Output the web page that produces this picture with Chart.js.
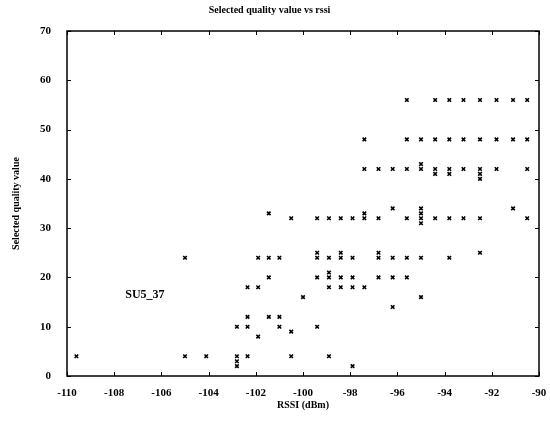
<!DOCTYPE html>
<html>
<head>
<meta charset="utf-8">
<script src="https://cdn.jsdelivr.net/npm/chart.js@4/dist/chart.umd.min.js"></script>
<style>
html, body { margin: 0; padding: 0; background: #fff; }
</style>
</head>
<body>
<canvas id="chart" width="550" height="427"></canvas>
<script>
// RSSI columns (dBm) and the quality values found at each of them
const rssi = [-109.6, -105.0, -104.1, -102.8, -102.35, -101.9, -101.45, -101.0, -100.5, -100.0,
	-99.4, -98.9, -98.4, -97.9, -97.4, -96.8, -96.2, -95.6, -95.0, -94.4,
	-93.8, -93.2, -92.5, -91.8, -91.1, -90.5];

const quality = [
	[4],
	[24, 4],
	[4],
	[10, 4, 3, 2],
	[18, 12, 10, 4],
	[24, 18, 8],
	[33, 24, 20, 12],
	[24, 12, 10],
	[32, 9, 4],
	[16],
	[32, 25, 24, 20, 10],
	[32, 24, 21, 20, 18, 4],
	[32, 25, 24, 20, 18],
	[32, 24, 20, 18, 2],
	[48, 42, 33, 32, 18],
	[42, 32, 25, 24, 20],
	[42, 34, 24, 20, 14],
	[56, 48, 42, 32, 24, 20],
	[48, 43, 42, 34, 33, 32, 31, 24, 16],
	[56, 48, 42, 41, 32],
	[56, 48, 42, 41, 32, 24],
	[56, 48, 42, 32],
	[56, 48, 42, 41, 40, 32, 25],
	[56, 48, 42],
	[56, 48, 34],
	[56, 48, 42, 32]
];

const xTicks = [-110, -108, -106, -104, -102, -100, -98, -96, -94, -92, -90];
const yTicks = [0, 10, 20, 30, 40, 50, 60, 70];

const noteText = 'SU5_37';
const notePos = [-106.7, 16.4];

const points = [];
rssi.forEach((r, i) => {
	quality[i].forEach(q => points.push({ x: r, y: q }));
});

const serif = '"Liberation Serif", "DejaVu Serif", serif';

// box round the plot, inward ticks and the text label
const frame = {
	id: 'frame',
	afterDraw(chart) {
		const { ctx, chartArea: a } = chart;
		const x = chart.scales.x;
		const y = chart.scales.y;
		ctx.save();
		ctx.strokeStyle = '#000';
		ctx.lineWidth = 1.5;
		ctx.strokeRect(a.left, a.top, a.right - a.left, a.bottom - a.top);
		ctx.lineWidth = 1;
		ctx.beginPath();
		xTicks.forEach(v => {
			const px = Math.round(x.getPixelForValue(v)) + 0.5;
			ctx.moveTo(px, a.bottom); ctx.lineTo(px, a.bottom - 4);
			ctx.moveTo(px, a.top); ctx.lineTo(px, a.top + 4);
		});
		yTicks.forEach(v => {
			const py = Math.round(y.getPixelForValue(v)) + 0.5;
			ctx.moveTo(a.left, py); ctx.lineTo(a.left + 4, py);
			ctx.moveTo(a.right, py); ctx.lineTo(a.right - 4, py);
		});
		ctx.stroke();
		ctx.fillStyle = '#000';
		ctx.font = 'bold 12px ' + serif;
		ctx.textAlign = 'center';
		ctx.textBaseline = 'middle';
		ctx.fillText(noteText, x.getPixelForValue(notePos[0]), y.getPixelForValue(notePos[1]));
		ctx.restore();
	}
};

new Chart(
	document.getElementById('chart'),
	{
		type: 'scatter',
		data: {
			datasets: [
				{
					label: 'SU5_37',
					data: points,
					pointStyle: 'crossRot',
					pointRadius: 2.5,
					borderColor: '#000',
					borderWidth: 1.6,
				}
			]
		},
		options: {
			responsive: false,
			animation: false,
			devicePixelRatio: 1,
			layout: { padding: { left: 0, right: 11, top: 0, bottom: 0 } },
			plugins: {
				legend: { display: false },
				tooltip: { enabled: false },
				title: {
					display: true,
					text: 'Selected quality value vs rssi',
					color: '#000',
					font: { family: serif, size: 10, weight: 'bold' },
					padding: { top: 4, bottom: 15 }
				}
			},
			scales: {
				x: {
					type: 'linear',
					min: -110,
					max: -90,
					afterBuildTicks: s => { s.ticks = xTicks.map(v => ({ value: v })); },
					afterFit: s => { s.height = 51; },
					grid: { display: false },
					border: { display: false },
					ticks: {
						color: '#000',
						padding: 3,
						font: { family: serif, size: 11, weight: 'bold' }
					},
					title: {
						display: true,
						text: 'RSSI (dBm)',
						color: '#000',
						font: { family: serif, size: 10, weight: 'bold' },
						padding: { top: 6, bottom: 16 }
					}
				},
				y: {
					min: 0,
					max: 70,
					afterBuildTicks: s => { s.ticks = yTicks.map(v => ({ value: v })); },
					afterFit: s => { s.width = 67; },
					grid: { display: false },
					border: { display: false },
					ticks: {
						color: '#000',
						padding: 8,
						font: { family: serif, size: 11, weight: 'bold' }
					},
					title: {
						display: true,
						text: 'Selected quality value',
						color: '#000',
						font: { family: serif, size: 10, weight: 'bold' },
						padding: { top: 10, bottom: 4 }
					}
				}
			}
		},
		plugins: [frame]
	}
);
</script>
</body>
</html>
